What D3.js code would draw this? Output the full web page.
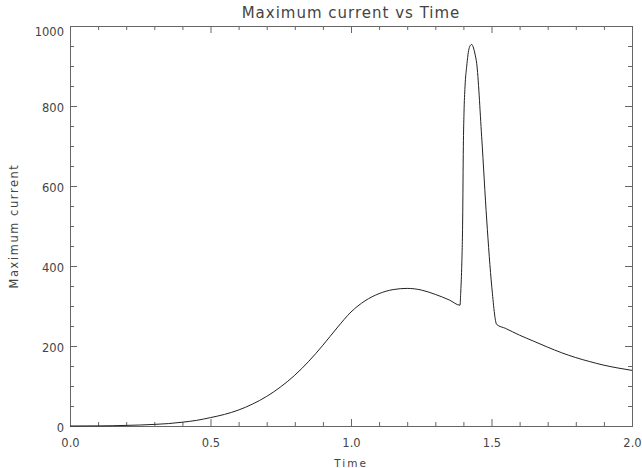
<!DOCTYPE html>
<html>
<head>
<meta charset="utf-8">
<script src="https://cdn.jsdelivr.net/npm/d3@7"></script>
<style>
  html, body { margin: 0; padding: 0; background: #fff; }
  #chart { width: 642px; height: 468px; }
</style>
</head>
<body>
<div id="chart"></div>
<script>
// Dati
const times = [0, 0.1, 0.15, 0.2, 0.25, 0.3, 0.35, 0.4, 0.45, 0.5, 0.55, 0.6, 0.65, 0.7, 0.75, 0.8,
  0.85, 0.9, 0.95, 1.0, 1.05, 1.1, 1.15, 1.2, 1.25, 1.3, 1.35, 1.388, 1.3903, 1.3938, 1.3974,
  1.3998, 1.4021, 1.4057, 1.4116, 1.4211, 1.4294, 1.436, 1.4413, 1.4472, 1.465, 1.483, 1.501,
  1.5184, 1.55, 1.6, 1.65, 1.7, 1.75, 1.8, 1.85, 1.9, 1.95, 2.0];
const currents = [0, 0.3, 0.7, 1.5, 2.5, 4, 6, 9.5, 14, 21, 29, 40, 55, 74, 98, 127,
  162, 202, 245, 285, 313, 331, 341, 344, 340, 329, 315, 302, 331, 394, 515,
  698, 782, 848, 898, 946, 954, 945, 930, 907, 723, 515, 348,
  254, 244, 227, 212, 197, 183, 171, 161, 152, 145, 139];

const xTicks = [0, 0.5, 1.0, 1.5, 2.0];
const xMinorTicks = [0.1, 0.2, 0.3, 0.4, 0.6, 0.7, 0.8, 0.9, 1.1, 1.2, 1.3, 1.4, 1.6, 1.7, 1.8, 1.9];
const yTicks = [0, 200, 400, 600, 800, 1000];
const yMinorTicks = [50, 100, 150, 250, 300, 350, 450, 500, 550, 650, 700, 750, 850, 900, 950];

const width = 642, height = 468;
const margin = { top: 26, right: 10, bottom: 42, left: 70 };
const w = width - margin.left - margin.right;
const h = height - margin.top - margin.bottom;
const font = "'DejaVu Sans', sans-serif";
const axisColor = "#666";
const textColor = "#444";

const x = d3.scaleLinear().domain([0, 2]).range([0, w]);
const y = d3.scaleLinear().domain([0, 1000]).range([h, 0]);

const svg = d3.select("#chart").append("svg")
  .attr("width", width)
  .attr("height", height)
  .style("display", "block")
  .style("font-family", font);

const g = svg.append("g").attr("transform", `translate(${margin.left},${margin.top})`);

// assi: tacche verso l'interno su tutti e quattro i lati
function styleAxis(sel) {
  sel.select(".domain").remove();
  sel.selectAll("line").attr("stroke", axisColor);
  sel.selectAll("text").attr("fill", textColor).style("font-size", "11.5px").style("font-family", font);
}

// basso
g.append("g").attr("transform", `translate(0,${h})`)
  .call(d3.axisBottom(x).tickValues(xTicks).tickFormat(d3.format(".1f"))
    .tickSizeInner(-7).tickSizeOuter(0).tickPadding(12.5))
  .call(styleAxis);
g.append("g").attr("transform", `translate(0,${h})`)
  .call(d3.axisBottom(x).tickValues(xMinorTicks).tickFormat("").tickSizeInner(-4).tickSizeOuter(0))
  .call(styleAxis);
// alto
g.append("g")
  .call(d3.axisTop(x).tickValues(xTicks).tickFormat("").tickSizeInner(-7).tickSizeOuter(0))
  .call(styleAxis);
g.append("g")
  .call(d3.axisTop(x).tickValues(xMinorTicks).tickFormat("").tickSizeInner(-4).tickSizeOuter(0))
  .call(styleAxis);
// sinistra
g.append("g")
  .call(d3.axisLeft(y).tickValues(yTicks).tickFormat(d3.format("d"))
    .tickSizeInner(-7).tickSizeOuter(0).tickPadding(6))
  .call(styleAxis)
  .call(a => a.selectAll("text").attr("dy", d => d === 1000 ? "0.85em" : "0.5em"));
g.append("g")
  .call(d3.axisLeft(y).tickValues(yMinorTicks).tickFormat("").tickSizeInner(-4).tickSizeOuter(0))
  .call(styleAxis);
// destra
g.append("g").attr("transform", `translate(${w},0)`)
  .call(d3.axisRight(y).tickValues(yTicks).tickFormat("").tickSizeInner(-7).tickSizeOuter(0))
  .call(styleAxis);
g.append("g").attr("transform", `translate(${w},0)`)
  .call(d3.axisRight(y).tickValues(yMinorTicks).tickFormat("").tickSizeInner(-4).tickSizeOuter(0))
  .call(styleAxis);

// cornice
g.append("rect")
  .attr("x", 0).attr("y", 0).attr("width", w).attr("height", h)
  .attr("fill", "none").attr("stroke", axisColor).attr("stroke-width", 1)
  .attr("shape-rendering", "crispEdges");

// curva
const line = d3.line()
  .x((d, i) => x(times[i]))
  .y(d => y(d))
  .curve(d3.curveMonotoneX);

g.append("path")
  .datum(currents)
  .attr("d", line)
  .attr("fill", "none")
  .attr("stroke", "#222")
  .attr("stroke-width", 1);

// titoli
svg.append("text")
  .attr("x", margin.left + w / 2).attr("y", 18.3)
  .attr("text-anchor", "middle")
  .attr("fill", textColor)
  .style("font-size", "15px").style("letter-spacing", "1px")
  .text("Maximum current vs Time");

svg.append("text")
  .attr("x", margin.left + w / 2).attr("y", 466.7)
  .attr("text-anchor", "middle")
  .attr("fill", textColor)
  .style("font-size", "10.5px").style("letter-spacing", "2px")
  .text("Time");

svg.append("text")
  .attr("transform", `translate(18.3,${margin.top + h / 2}) rotate(-90)`)
  .attr("text-anchor", "middle")
  .attr("fill", textColor)
  .style("font-size", "11.4px").style("letter-spacing", "1.6px")
  .text("Maximum current");
</script>
</body>
</html>
